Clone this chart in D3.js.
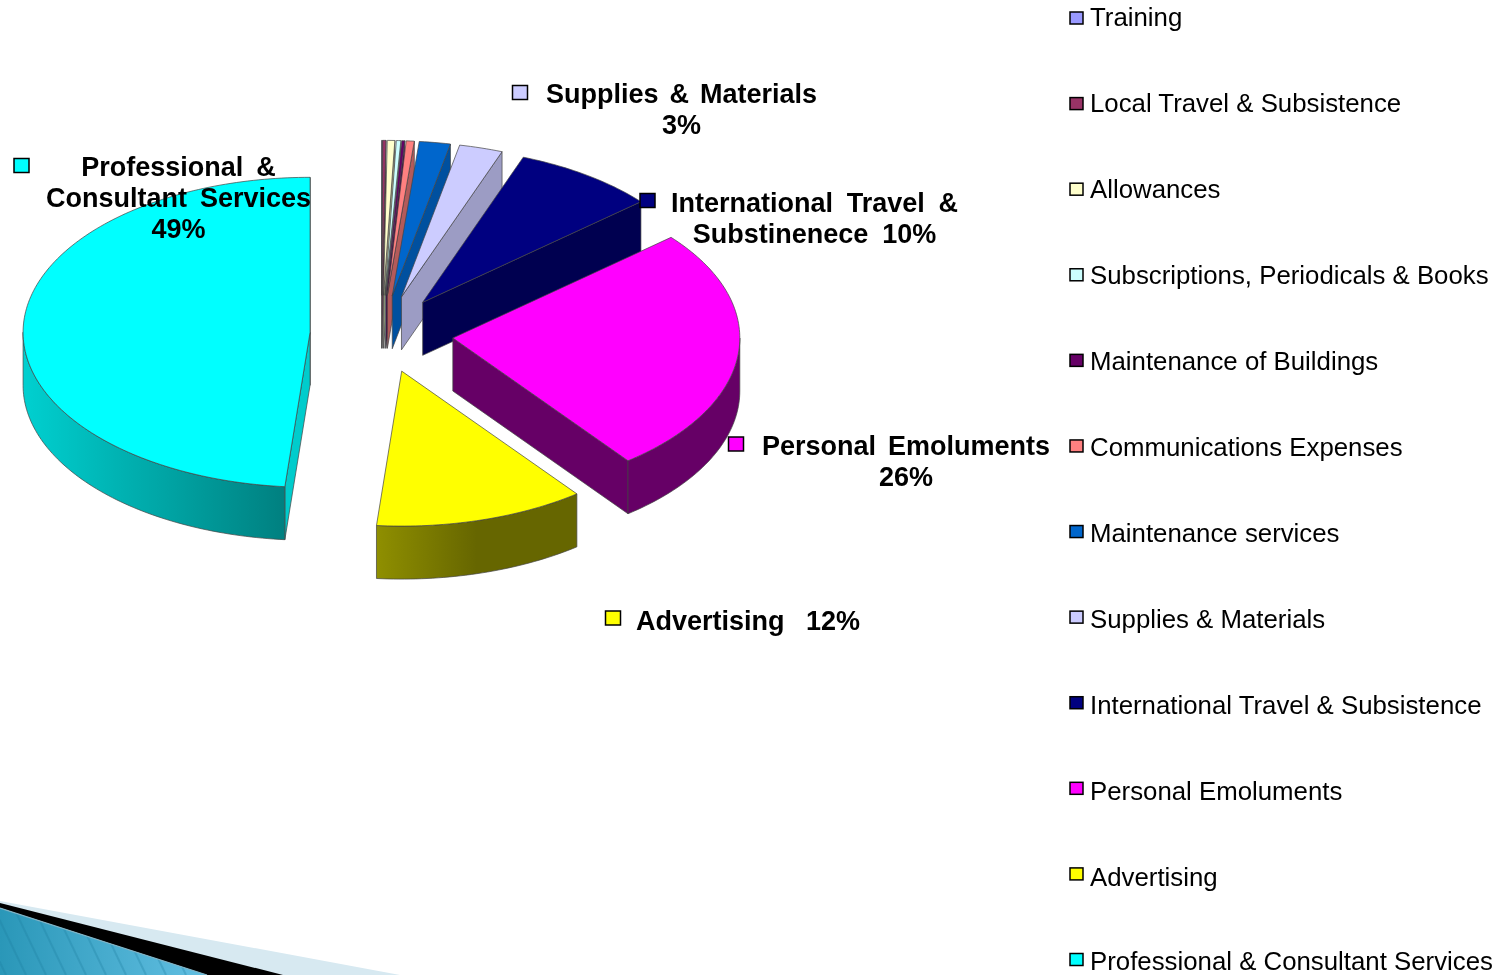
<!DOCTYPE html>
<html>
<head>
<meta charset="utf-8">
<script src="https://cdn.jsdelivr.net/npm/d3@7"></script>
<style>
  html, body { margin: 0; padding: 0; background: #fff; }
  svg { display: block; filter: blur(0.45px); }
  text { font-family: "Liberation Sans", Arial, sans-serif; fill: #000; }
</style>
</head>
<body>
<div id="container"></div>
<script>
const categories = ["Training", "Local Travel & Subsistence", "Allowances", "Subscriptions, Periodicals & Books",
  "Maintenance of Buildings", "Communications Expenses", "Maintenance services", "Supplies & Materials",
  "International Travel & Subsistence", "Personal Emoluments", "Advertising", "Professional & Consultant Services"];
const values = [0.03, 0.18, 0.42, 0.25, 0.17, 0.45, 1.75, 2.45, 8.05, 25.8, 11.85, 48.6];
const topColors = ["#9999ff", "#993366", "#ffffcc", "#ccffff", "#660066", "#ff8080", "#0066cc", "#ccccff", "#000080", "#ff00ff", "#ffff00", "#00ffff"];
const wallColors = ["#6b6bb3", "#6b2447", "#b3b38f", "#8fb3b3", "#470047", "#b35a5a", "#00509f", "#9c9cc4", "#000050", "#660066", "#666600", "#00cccc"];
const rimLight = ["#8080d0", "#802b55", "#d0d0a8", "#a8d0d0", "#550055", "#d06a6a", "#0055aa", "#aaaacc", "#000060", "#660066", "#8f8f00", "#00d0d0"];
const rimDark = ["#666699", "#662244", "#999977", "#779999", "#440044", "#995555", "#004488", "#888899", "#000050", "#660066", "#666600", "#008080"];

const sliceLabels = [
  { lines: ["Supplies  &  Materials", "3%"], cat: 7 },
  { lines: ["International  Travel  &", "Substinenece  10%"], cat: 8 },
  { lines: ["Personal  Emoluments", "26%"], cat: 9 },
  { lines: ["Advertising   12%"], cat: 10 },
  { lines: ["Professional  &", "Consultant  Services", "49%"], cat: 11 }
];

const width = 1505, height = 975;
const cx = 381.6, cy = 334;      // pie centre before the slices are pulled out
const radius = 287, tilt = 0.54, depth = 53, explode = 71.6;

const svg = d3.select("#container").append("svg")
  .attr("width", width)
  .attr("height", height);

const defs = svg.append("defs");

// ---- corner decoration
const cornerGrad = defs.append("linearGradient").attr("id", "cornerFill");
cornerGrad.append("stop").attr("offset", 0).attr("stop-color", "#2a97b8");
cornerGrad.append("stop").attr("offset", 1).attr("stop-color", "#62bfe2");
defs.append("clipPath").attr("id", "cornerClip").append("path").attr("d", "M0,908L207,975L0,975Z");

const corner = svg.append("g").attr("class", "corner");
corner.append("path").attr("d", "M0,901L400,975L0,975Z").attr("fill", "#d7e9f1");
corner.append("path").attr("d", "M0,903L283,975L207,975L0,908Z").attr("fill", "#000");
corner.append("path").attr("d", "M0,908L207,975L0,975Z").attr("fill", "url(#cornerFill)");
corner.append("g").attr("clip-path", "url(#cornerClip)")
  .selectAll("line")
  .data(d3.range(-70, 220, 20))
  .enter()
  .append("line")
  .attr("x1", d => d)
  .attr("y1", 900)
  .attr("x2", d => d + 36)
  .attr("y2", 975)
  .attr("stroke", "#1f7f9f")
  .attr("stroke-opacity", 0.3)
  .attr("stroke-width", 2);
corner.append("path").attr("d", "M0,908L207,975").attr("fill", "none")
  .attr("stroke", "#7fb2c4").attr("stroke-width", 1.2);

// ---- pie
const pie = d3.pie().sort(null).value(d => d)(values);

function pt(angle, ox, oy, r, dz) {
  return [ox + Math.sin(angle) * r, oy - Math.cos(angle) * r * tilt + dz];
}

function arcPoints(a0, a1, ox, oy, dz) {
  const n = Math.max(2, Math.ceil((a1 - a0) / 0.02));
  return d3.range(n + 1).map(i => pt(a0 + (a1 - a0) * i / n, ox, oy, radius, dz));
}

const line = d3.line();
const edge = "#444";
const edgeWidth = 0.7;
const plot = svg.append("g").attr("class", "pie");

pie.forEach(function(d, i) {
  const mid = (d.startAngle + d.endAngle) / 2;
  const ox = cx + Math.sin(mid) * explode;
  const oy = cy - Math.cos(mid) * explode * tilt;
  const g = plot.append("g").attr("class", "slice");

  // radial walls, only the ones that face the viewer
  if (Math.sin(d.endAngle) > 0) {
    const e = pt(d.endAngle, ox, oy, radius, 0);
    g.append("path")
      .attr("d", line([[ox, oy], e, [e[0], e[1] + depth], [ox, oy + depth]]) + "Z")
      .attr("fill", wallColors[i]).attr("stroke", edge).attr("stroke-width", edgeWidth);
  }
  if (Math.sin(d.startAngle) < 0) {
    const e = pt(d.startAngle, ox, oy, radius, 0);
    g.append("path")
      .attr("d", line([[ox, oy], e, [e[0], e[1] + depth], [ox, oy + depth]]) + "Z")
      .attr("fill", wallColors[i]).attr("stroke", edge).attr("stroke-width", edgeWidth);
  }

  // outer rim for the part of the arc on the near side
  const r0 = Math.max(d.startAngle, Math.PI / 2), r1 = Math.min(d.endAngle, Math.PI * 1.5);
  if (r1 > r0) {
    const gradId = "rim" + i;
    const grad = defs.append("linearGradient").attr("id", gradId);
    // near side: cyan runs light to dark all the way, yellow is flat after the middle
    grad.append("stop").attr("offset", 0).attr("stop-color", rimLight[i]);
    grad.append("stop").attr("offset", i == 10 ? 0.5 : 1).attr("stop-color", rimDark[i]);
    const top = arcPoints(r0, r1, ox, oy, 0);
    const bottom = arcPoints(r0, r1, ox, oy, depth).reverse();
    g.append("path")
      .attr("d", line(top.concat(bottom)) + "Z")
      .attr("fill", "url(#" + gradId + ")").attr("stroke", edge).attr("stroke-width", edgeWidth);
  }

  // top face
  g.append("path")
    .attr("d", line([[ox, oy]].concat(arcPoints(d.startAngle, d.endAngle, ox, oy, 0))) + "Z")
    .attr("fill", topColors[i]).attr("stroke", edge).attr("stroke-width", edgeWidth);
});

// ---- labels on the slices
const labelPos = [
  { mx: 512.5, my: 85.5, tx: 681.5, ty: 103, ws: -2 },
  { mx: 640, my: 193.5, tx: 814.5, ty: 212, ws: -0.6 },
  { mx: 728.5, my: 437, tx: 906, ty: 455, ws: -1.5 },
  { mx: 605.5, my: 611, tx: 748, ty: 630, ws: -0.3 },
  { mx: 14, my: 158.5, tx: 178.5, ty: 176, ws: -1 }
];
const labels = svg.append("g").attr("class", "labels");
sliceLabels.forEach(function(d, i) {
  const p = labelPos[i];
  labels.append("rect")
    .attr("x", p.mx).attr("y", p.my).attr("width", 15).attr("height", 14)
    .attr("fill", topColors[d.cat]).attr("stroke", "#000").attr("stroke-width", 1.5);
  const t = labels.append("text")
    .attr("text-anchor", "middle")
    .attr("font-size", 27)
    .attr("font-weight", "bold")
    .style("white-space", "pre")
    .style("word-spacing", p.ws + "px");
  d.lines.forEach(function(s, j) {
    t.append("tspan").attr("x", p.tx).attr("y", p.ty + j * 31).text(s);
  });
});

// ---- legend, the boxes and the texts drift apart a little in the original
const legendY = d3.scaleLinear().domain([0, categories.length - 1]).range([17, 963]);
const boxY = d3.scaleLinear().domain([0, categories.length - 1]).range([18, 959.5]);
const legend = svg.append("g").attr("class", "legend");
legend.selectAll("rect").data(categories).enter().append("rect")
  .attr("x", 1070).attr("y", (d, i) => boxY(i) - 6).attr("width", 13).attr("height", 12)
  .attr("fill", (d, i) => topColors[i])
  .attr("stroke", "#000").attr("stroke-width", 1.5);
// last row is pulled up so it stays inside the page
legend.selectAll("text").data(categories).enter().append("text")
  .attr("x", 1090).attr("y", (d, i) => Math.min(legendY(i), 960.5) + 9)
  .attr("font-size", 25.8)
  .text(d => d);
</script>
</body>
</html>
